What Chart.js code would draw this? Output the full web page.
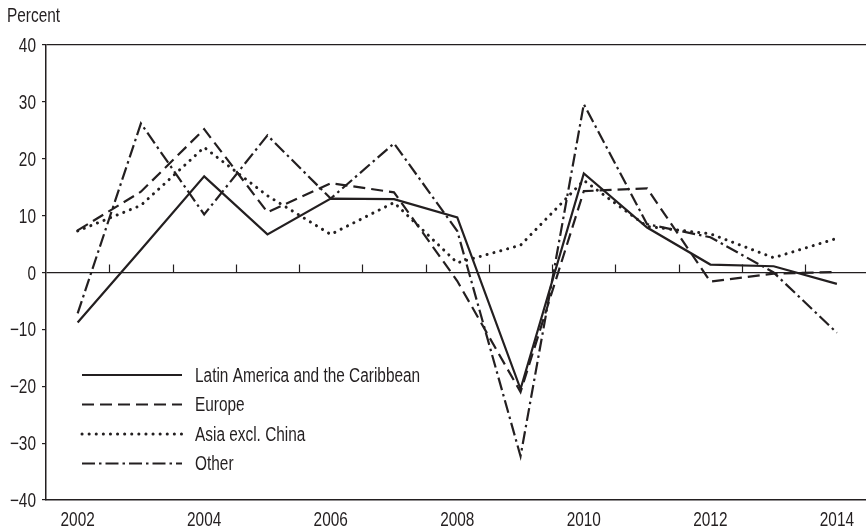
<!DOCTYPE html>
<html>
<head>
<meta charset="utf-8">
<script src="https://cdn.jsdelivr.net/npm/chart.js@4.4.1/dist/chart.umd.min.js"></script>
<style>
  body { margin: 0; background: #fff; }
  #wrap { width: 866px; height: 532px; }
</style>
</head>
<body>
<div id="wrap"><canvas id="growthChart" width="866" height="532"></canvas></div>
<script>
const years = [2002, 2003, 2004, 2005, 2006, 2007, 2008, 2009, 2010, 2011, 2012, 2013, 2014];
const xTickLabels = [2002, 2004, 2006, 2008, 2010, 2012, 2014];
const yTicks = [-40, -30, -20, -10, 0, 10, 20, 30, 40];

const latinAmerica = [-8.8, 4.0, 16.9, 6.7, 13.0, 12.9, 9.7, -20.5, 17.4, 7.9, 1.4, 1.1, -2.0];
const europe = [7.4, 14.2, 25.2, 10.6, 15.7, 14.1, -1.5, -21.0, 14.3, 14.8, -1.6, -0.2, 0.1];
const asiaExChina = [7.3, 11.8, 22.0, 13.5, 6.7, 12.3, 1.7, 4.8, 16.2, 8.1, 6.8, 2.6, 6.0];
const other = [-7.2, 26.2, 10.2, 24.1, 13.0, 22.7, 7.3, -32.3, 29.6, 8.5, 6.2, 0.0, -10.6];

const ink = '#231f20';
const font = "20px 'Liberation Sans', Arial, sans-serif";
const squeeze = 0.77; // condensed look of the original typeface

const series = [
  { label: 'Latin America and the Caribbean', values: latinAmerica, dash: [], width: 2.2, cap: 'butt' },
  { label: 'Europe', values: europe, dash: [12, 6], width: 2.2, cap: 'butt' },
  { label: 'Asia excl. China', values: asiaExChina, dash: [0.1, 7], width: 3, cap: 'round' },
  { label: 'Other', values: other, dash: [13, 4, 2.5, 4], width: 2.2, cap: 'butt' }
];

function minus(v) {
  return String(v).replace('-', '\u2212');
}

function text(ctx, str, x, y, align) {
  ctx.save();
  ctx.translate(x, y);
  ctx.scale(squeeze, 1);
  ctx.textAlign = align;
  ctx.fillText(str, 0, 0);
  ctx.restore();
}

// tick labels, zero-line ticks, legend and unit label
const extras = {
  id: 'extras',
  afterDatasetsDraw(chart) {
    const ctx = chart.ctx;
    const x = chart.scales.x;
    const y = chart.scales.y;
    const y0 = y.getPixelForValue(0);
    ctx.save();
    ctx.strokeStyle = ink;
    ctx.lineWidth = 1.2;
    for (let i = 0; i < years.length - 1; i++) {
      const px = Math.round(x.getPixelForValue(years[i] + 0.5)) + 0.5;
      ctx.beginPath();
      ctx.moveTo(px, y0);
      ctx.lineTo(px, y0 - 8);
      ctx.stroke();
    }

    ctx.fillStyle = ink;
    ctx.font = font;
    ctx.textBaseline = 'middle';
    yTicks.forEach(v => text(ctx, minus(v), 36, y.getPixelForValue(v) + 1.5, 'right'));
    xTickLabels.forEach(v => text(ctx, String(v), x.getPixelForValue(v), 520.5, 'center'));
    text(ctx, 'Percent', 7, 16, 'left');

    series.forEach((s, i) => {
      const ly = 375 + i * 29.5;
      ctx.beginPath();
      ctx.setLineDash(s.dash);
      ctx.lineCap = s.cap;
      ctx.lineWidth = s.width;
      ctx.moveTo(82, ly);
      ctx.lineTo(182, ly);
      ctx.stroke();
      ctx.setLineDash([]);
      text(ctx, s.label, 195, ly + 1, 'left');
    });
    ctx.restore();
  }
};

const ctx = document.getElementById('growthChart').getContext('2d');
const chart = new Chart(ctx, {
  type: 'line',
  data: {
    datasets: series.map(s => ({
      label: s.label,
      data: years.map((yr, i) => ({ x: yr, y: s.values[i] })),
      borderColor: ink,
      borderWidth: s.width,
      borderDash: s.dash,
      borderCapStyle: s.cap,
      borderJoinStyle: 'miter',
      pointRadius: 0,
      tension: 0,
      fill: false
    }))
  },
  options: {
    responsive: false,
    animation: false,
    layout: { padding: { top: 45, left: 0, right: 0, bottom: 0 } },
    plugins: {
      legend: { display: false },
      tooltip: { enabled: false }
    },
    scales: {
      x: {
        type: 'linear',
        min: 2001.5,
        max: 2014.46,
        afterBuildTicks: scale => { scale.ticks = xTickLabels.map(v => ({ value: v })); },
        afterFit: scale => { scale.height = 32; },
        grid: { display: false },
        border: { display: true, color: ink, width: 1.5 },
        ticks: { display: false }
      },
      y: {
        min: -40,
        max: 40,
        afterBuildTicks: scale => { scale.ticks = yTicks.map(v => ({ value: v })); },
        afterFit: scale => { scale.width = 46; },
        grid: {
          drawOnChartArea: true,
          color: c => (c.tick && (c.tick.value === 0 || c.tick.value === 40)) ? ink : 'rgba(0,0,0,0)',
          tickColor: ink,
          tickLength: 4,
          lineWidth: 1.2
        },
        border: { display: true, color: ink, width: 1.5 },
        ticks: { display: false }
      }
    }
  },
  plugins: [extras]
});
</script>
</body>
</html>
